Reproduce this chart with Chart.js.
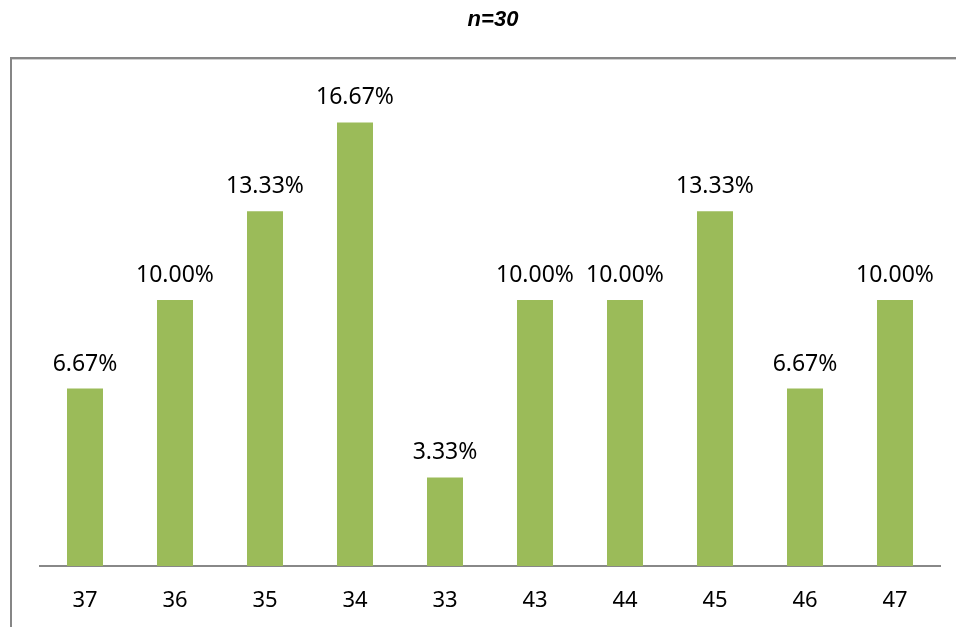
<!DOCTYPE html>
<html>
<head>
<meta charset="utf-8">
<script src="https://cdn.jsdelivr.net/npm/chart.js@4"></script>
<style>
  html, body { margin: 0; padding: 0; background: #fff; }
  #chart { display: block; }
</style>
</head>
<body>
<canvas id="chart" width="956" height="627"></canvas>
<script>
const categories = ['37', '36', '35', '34', '33', '43', '44', '45', '46', '47'];
const shares = [6.67, 10.00, 13.33, 16.67, 3.33, 10.00, 10.00, 13.33, 6.67, 10.00];
const titleText = 'n=30';

// outer frame and the heading above it
const framePlugin = {
    id: 'frame',
    beforeDraw(chart) {
        const c = chart.ctx;
        c.save();
        c.strokeStyle = '#868686';
        c.lineWidth = 2;
        c.beginPath();
        c.moveTo(11, 627);
        c.lineTo(11, 58);
        c.lineTo(956, 58);
        c.stroke();
        c.strokeStyle = '#d0d0d0';
        c.lineWidth = 1;
        c.beginPath();
        c.moveTo(12, 59.5);
        c.lineTo(956, 59.5);
        c.stroke();

        c.fillStyle = '#000';
        c.font = 'italic bold 22px "Liberation Sans", Arial, sans-serif';
        c.textAlign = 'center';
        c.textBaseline = 'alphabetic';
        c.fillText(titleText, 493, 26);
        c.restore();
    }
};

// percentage label over each bar
const valueLabels = {
    id: 'valueLabels',
    afterDatasetsDraw(chart) {
        const c = chart.ctx;
        const meta = chart.getDatasetMeta(0);
        c.save();
        c.fillStyle = '#000';
        c.font = '23px "Noto Sans", sans-serif';
        c.textAlign = 'center';
        c.textBaseline = 'alphabetic';
        meta.data.forEach((bar, i) => {
            c.fillText(shares[i].toFixed(2) + '%', bar.x, bar.y - 18);
        });
        c.restore();
    }
};

new Chart(document.getElementById('chart').getContext('2d'), {
    type: 'bar',
    data: {
        labels: categories,
        datasets: [{
            data: shares,
            backgroundColor: '#9BBB59',
            barPercentage: 0.4,
            categoryPercentage: 1.0,
        }],
    },
    options: {
        responsive: false,
        animation: false,
        layout: { padding: { left: 40, right: 16, top: 87, bottom: 0 } },
        plugins: {
            legend: { display: false },
            tooltip: { enabled: false },
        },
        scales: {
            x: {
                grid: { display: false, drawTicks: false },
                border: { display: true, color: '#888888', width: 2 },
                ticks: {
                    color: '#000',
                    padding: 22,
                    font: { family: '"Noto Sans", sans-serif', size: 22 },
                },
                afterFit: (scale) => { scale.height = 61; },
            },
            y: {
                display: false,
                min: 0,
                max: 18,
            },
        },
    },
    plugins: [framePlugin, valueLabels],
});
</script>
</body>
</html>
